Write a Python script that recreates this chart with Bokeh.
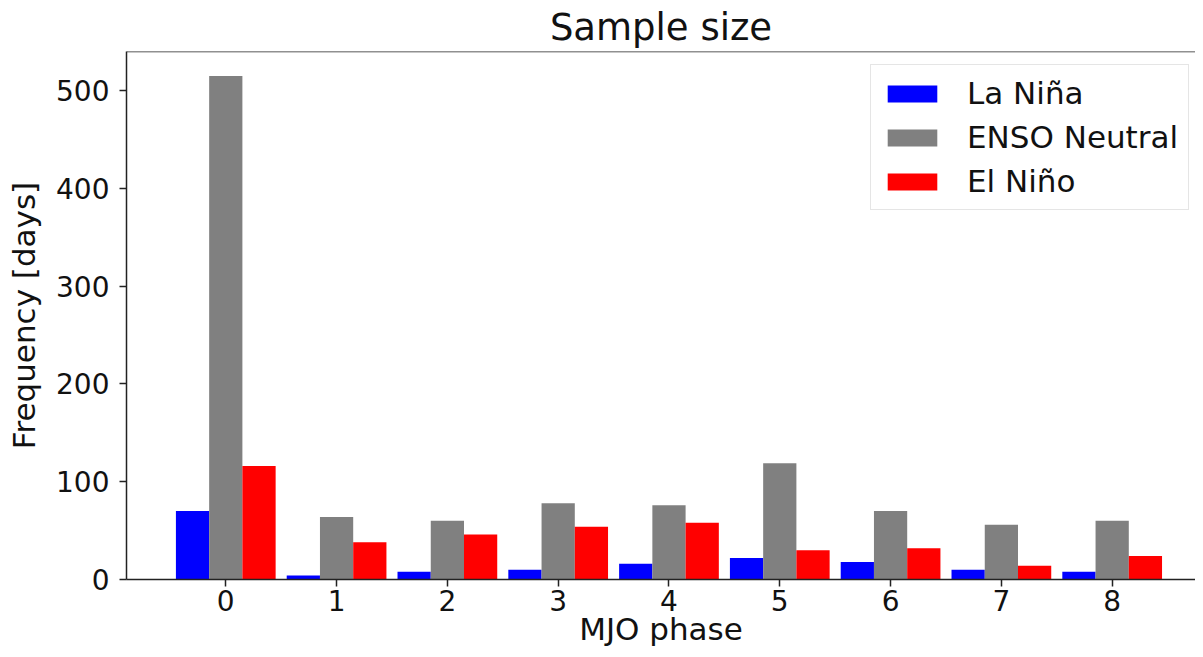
from bokeh.plotting import figure
from bokeh.models import ColumnDataSource, Range1d, FixedTicker, Span
from bokeh.transform import dodge
from bokeh.embed import file_html
from bokeh.resources import INLINE

phases = [0, 1, 2, 3, 4, 5, 6, 7, 8]
la_nina = [70, 4, 8, 10, 16, 22, 18, 10, 8]
enso_neutral = [515, 64, 60, 78, 76, 119, 70, 56, 60]
el_nino = [116, 38, 46, 54, 58, 30, 32, 14, 24]
y_ticks = [0, 100, 200, 300, 400, 500]

source = ColumnDataSource(dict(phase=phases, la=la_nina, neu=enso_neutral, el=el_nino))

FONT = "DejaVu Sans"

p = figure(width=1195, height=649, output_backend="svg", toolbar_location=None,
           x_range=Range1d(-0.896, 8.752), y_range=Range1d(0, 540),
           title="Sample size",
           min_border_left=126, min_border_right=0, min_border_top=51, min_border_bottom=70)

bw = 0.3
p.vbar(x=dodge("phase", -0.3), top="la", width=bw, source=source,
       fill_color="#0000ff", line_color=None, legend_label="La Niña")
p.vbar(x=dodge("phase", 0.0), top="neu", width=bw, source=source,
       fill_color="#808080", line_color=None, legend_label="ENSO Neutral")
p.vbar(x=dodge("phase", 0.3), top="el", width=bw, source=source,
       fill_color="#ff0000", line_color=None, legend_label="El Niño")

# top spine
p.add_layout(Span(location=540, dimension="width", line_color="#222222", line_width=1.5))

p.outline_line_color = None
p.xgrid.grid_line_color = None
p.ygrid.grid_line_color = None

p.title.text_font = FONT
p.title.text_font_size = "37px"
p.title.text_font_style = "normal"
p.title.text_color = "#111111"
p.title.align = "center"
p.title.standoff = 5

p.xaxis.ticker = FixedTicker(ticks=phases)
p.yaxis.ticker = FixedTicker(ticks=y_ticks)
p.xaxis.axis_label = "MJO phase"
p.yaxis.axis_label = "Frequency [days]"

for ax in (p.xaxis, p.yaxis):
    ax.axis_label_text_font = FONT
    ax.axis_label_text_font_size = "31px"
    ax.axis_label_text_font_style = "normal"
    ax.axis_label_text_color = "#111111"
    ax.major_label_text_font = FONT
    ax.major_label_text_font_size = "28px"
    ax.major_label_text_color = "#111111"
    ax.axis_line_color = "#222222"
    ax.axis_line_width = 1.5
    ax.major_tick_line_color = "#222222"
    ax.major_tick_line_width = 1.5
    ax.major_tick_out = 7
    ax.major_tick_in = 0
    ax.minor_tick_line_color = None

p.yaxis.major_label_standoff = 10
p.xaxis.major_label_standoff = 3
p.yaxis.axis_label_standoff = 11
p.xaxis.axis_label_standoff = -3

lg = p.legend[0]
lg.location = (744, 369)
lg.label_text_font = FONT
lg.label_text_font_size = "31px"
lg.label_text_color = "#111111"
lg.glyph_width = 62
lg.glyph_height = 21
lg.label_standoff = 24
lg.spacing = 8
lg.padding = 10
lg.margin = 0
lg.border_line_color = "#cccccc"
lg.border_line_width = 1.5
lg.background_fill_alpha = 0.8

open("out.html", "w").write(file_html(p, INLINE))
